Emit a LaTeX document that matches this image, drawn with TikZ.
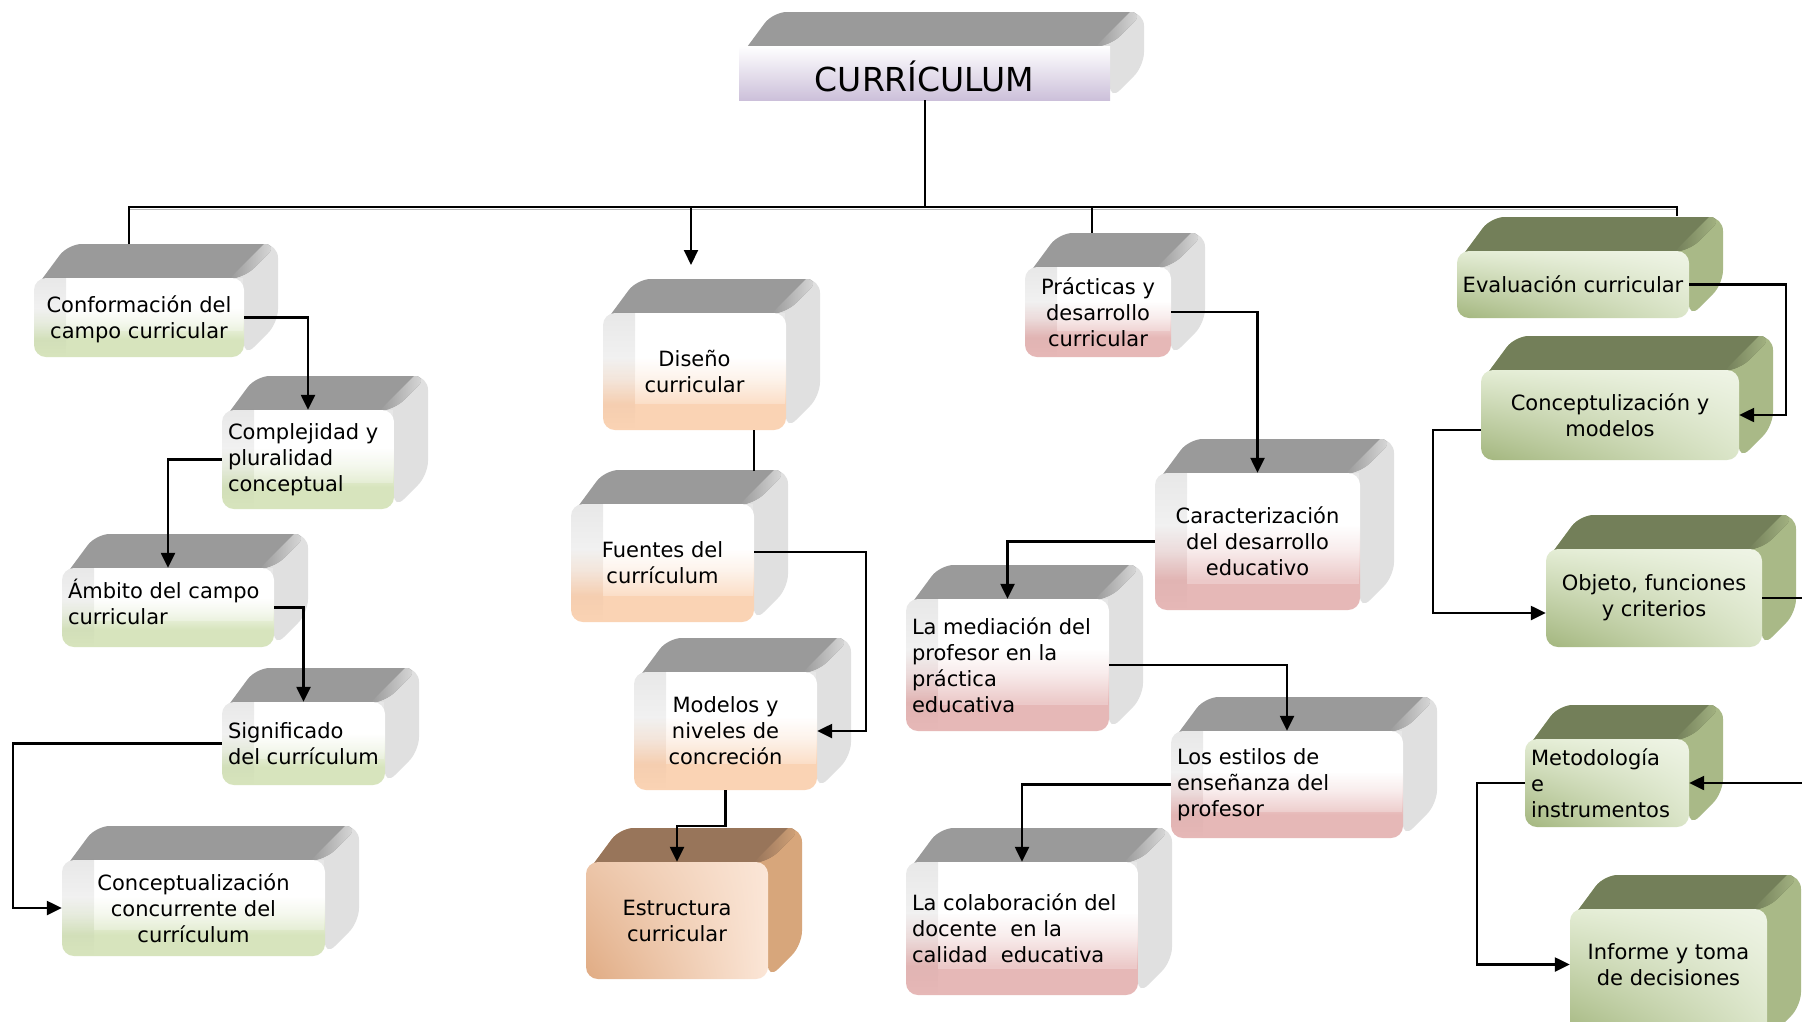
\documentclass[tikz,border=0pt]{standalone}
\usepackage{fontspec}
\setmainfont{DejaVu Sans}
\usetikzlibrary{arrows.meta,shadings,fadings}

\definecolor{topgray}{HTML}{9A9A9A}
\definecolor{sidegray}{HTML}{E0E0E0}
\definecolor{lgreen}{HTML}{D7E4BD}
\definecolor{peach}{HTML}{FAD3B4}
\definecolor{rosy}{HTML}{E6B8B7}
\definecolor{lav}{HTML}{CCC0DA}
\definecolor{oltop}{HTML}{737F59}
\definecolor{olside}{HTML}{A9B987}
\definecolor{olfront}{HTML}{E4EDD5}
\definecolor{oldark}{HTML}{A3B67E}
\definecolor{brtop}{HTML}{98755A}
\definecolor{brside}{HTML}{D7A67B}
\definecolor{brfront}{HTML}{FBE6D7}
\definecolor{brdark}{HTML}{E0AB83}

\pgfdeclareverticalshading{frontgreen}{100bp}{color(0bp)=(lgreen); color(36bp)=(lgreen); color(47bp)=(lgreen!35!white); color(56bp)=(white); color(100bp)=(white)}
\pgfdeclareverticalshading{frontpeach}{100bp}{color(0bp)=(peach); color(36bp)=(peach); color(47bp)=(peach!35!white); color(56bp)=(white); color(100bp)=(white)}
\pgfdeclareverticalshading{frontrosy}{100bp}{color(0bp)=(rosy); color(36bp)=(rosy); color(47bp)=(rosy!35!white); color(56bp)=(white); color(100bp)=(white)}

% #1 name, #2 L, #3 T, #4 R, #5 B, #6 top colour, #7 side colour, #8 front style
\newcommand\cubeshape[8]{%
  \fill[#7, rounded corners=14pt] (#2,#3+12) -- (#2+34,#3-34) -- (#4+34,#3-34) -- (#4+34,#5-34) -- (#4,#5) -- (#4,#3) -- cycle;
  \begin{scope}
    \clip[rounded corners=14pt] (#2,#3+12) -- (#2+34,#3-34) -- (#4+34,#3-34) -- (#4,#3) -- cycle;
    \fill[#6] (#2,#3+12) -- (#2+34,#3-34) -- (#4+34,#3-34) -- (#4,#3) -- cycle;
    \shade[left color=#6, right color=#7] (#4-14,#3) -- (#4+20,#3-34) -- (#4+34,#3-34) -- (#4,#3) -- cycle;
  \end{scope}
  \pgfmathsetmacro\cubcx{(#2+#4)/2}%
  \pgfmathsetmacro\cubcy{(#3+#5)/2}%
  \pgfmathsetmacro\cubw{#4-#2}%
  \pgfmathsetmacro\cubh{#5-#3}%
  \node[#8, minimum width=\cubw pt, minimum height=\cubh pt] (#1) at (\cubcx,\cubcy) {};
}
% light bevel strip on the left of a front face: #1 L, #2 T, #3 B, #4 R
\newcommand\bevel[4]{%
  \fill[black, opacity=0.09, path fading=south] (#1+32,#2) [rounded corners=12pt] -- (#1,#2) -- (#1,#3) [sharp corners] -- (#1+32,#3) -- cycle;
  \fill[white, opacity=0.25] (#1+32,#2) -- (#4-1,#2) -- (#4-1,#3-26) -- (#1+32,#3-26) -- cycle;
}

\tikzset{
  fr/.style={rectangle, inner sep=0pt, rounded corners=12pt, shade},
  fg/.style={fr, shading=frontgreen},
  fp/.style={fr, shading=frontpeach},
  fk/.style={fr, shading=frontrosy},
  fl/.style={rectangle, inner sep=0pt, shade, top color=white, bottom color=lav},
  fo/.style={fr, lower left=oldark, upper left=olfront, upper right=olfront!60!white, lower right=olfront!85!oldark},
  fb/.style={fr, lower left=brdark, upper left=brdark!55!brfront, upper right=brfront, lower right=brfront},
  ct/.style={align=center, font=\fontsize{21}{26}\selectfont, inner sep=0pt},
  lt/.style={ct, align=left, anchor=west},
  conn/.style={line width=2.4pt, -{Triangle[length=15pt,width=14pt]}},
  plain/.style={line width=2.4pt},
  tree/.style={line width=2pt},
}

\begin{document}
\begin{tikzpicture}[x=1pt, y=-1pt]
\useasboundingbox (0,0) rectangle (1802,1021);
\fill[white] (0,0) rectangle (1802,1021);
\clip (0,0) rectangle (1802,1021);

% ---- boxes ----
\cubeshape{cur}{739}{46}{1110}{100}{topgray}{sidegray}{fl}
\node[ct, font=\fontsize{33}{36}\selectfont] (cur-t) at ([yshift=-3pt]cur.center) {CURRÍCULUM};

\cubeshape{conf}{34}{278}{244}{357}{topgray}{sidegray}{fg}
\bevel{34}{278}{357}{244}
\node[ct] (conf-t) at ([yshift=-2pt]conf.center) {Conformación del\\campo curricular};

\cubeshape{comp}{222}{410}{394}{509}{topgray}{sidegray}{fg}
\bevel{222}{410}{509}{394}
\node[lt] (comp-t) at ([xshift=6pt]comp.west) {Complejidad y\\pluralidad\\conceptual};

\cubeshape{amb}{62}{568}{274}{647}{topgray}{sidegray}{fg}
\bevel{62}{568}{647}{274}
\node[lt] (amb-t) at ([xshift=6pt,yshift=6pt]amb.west) {Ámbito del campo\\curricular};

\cubeshape{sig}{222}{702}{385}{785}{topgray}{sidegray}{fg}
\bevel{222}{702}{785}{385}
\node[lt] (sig-t) at ([xshift=6pt]sig.west) {Significado\\del currículum};

\cubeshape{cc}{62}{860}{325}{956}{topgray}{sidegray}{fg}
\bevel{62}{860}{956}{325}
\node[ct] (cc-t) at (cc.center) {Conceptualización\\concurrente del\\currículum};

\cubeshape{dis}{603}{313}{786}{430}{topgray}{sidegray}{fp}
\bevel{603}{313}{430}{786}
\node[ct] (dis-t) at (dis.center) {Diseño\\curricular};

\cubeshape{fue}{571}{504}{754}{622}{topgray}{sidegray}{fp}
\bevel{571}{504}{622}{754}
\node[ct] (fue-t) at (fue.center) {Fuentes del\\currículum};

\cubeshape{mod}{634}{672}{817}{790}{topgray}{sidegray}{fp}
\bevel{634}{672}{790}{817}
\node[ct] (mod-t) at (mod.center) {Modelos y\\niveles de\\concreción};

\cubeshape{est}{586}{862}{768}{979}{brtop}{brside}{fb}
\node[ct] (est-t) at (est.center) {Estructura\\curricular};

\cubeshape{prac}{1025}{267}{1171}{357}{topgray}{sidegray}{fk}
\bevel{1025}{267}{357}{1171}
\node[ct] (prac-t) at (prac.center) {Prácticas y\\desarrollo\\curricular};

\cubeshape{car}{1155}{473}{1360}{610}{topgray}{sidegray}{fk}
\bevel{1155}{473}{610}{1360}
\node[ct] (car-t) at (car.center) {Caracterización\\del desarrollo\\educativo};

\cubeshape{med}{906}{599}{1109}{731}{topgray}{sidegray}{fk}
\bevel{906}{599}{731}{1109}
\node[lt] (med-t) at ([xshift=6pt]med.west) {La mediación del\\profesor en la\\práctica\\educativa};

\cubeshape{sty}{1171}{731}{1403}{838}{topgray}{sidegray}{fk}
\bevel{1171}{731}{838}{1403}
\node[lt] (sty-t) at ([xshift=6pt]sty.west) {Los estilos de\\enseñanza del\\profesor};

\cubeshape{col}{906}{862}{1138}{995}{topgray}{sidegray}{fk}
\bevel{906}{862}{995}{1138}
\node[lt] (col-t) at ([xshift=6pt]col.west) {La colaboración del\\docente \ en la\\calidad \ educativa};

\cubeshape{eval}{1457}{251}{1689}{318}{oltop}{olside}{fo}
\node[ct] (eval-t) at (eval.center) {Evaluación curricular};

\cubeshape{cym}{1481}{370}{1739}{460}{oltop}{olside}{fo}
\node[ct] (cym-t) at (cym.center) {Conceptulización y\\modelos};

\cubeshape{obj}{1546}{549}{1762}{647}{oltop}{olside}{fo}
\node[ct] (obj-t) at (obj.center) {Objeto, funciones\\y criterios};

\cubeshape{met}{1525}{739}{1689}{827}{oltop}{olside}{fo}
\node[lt] (met-t) at ([xshift=6pt]met.west) {Metodología\\e\\instrumentos};

\cubeshape{inf}{1570}{909}{1767}{1040}{oltop}{olside}{fo}
\node[ct] (inf-t) at ([yshift=10pt]inf.center) {Informe y toma\\de decisiones};

% ---- tree ----
\coordinate (bl) at (129,207);
\coordinate (br) at (1677,207);
\coordinate (conf-top) at (129,244);
\coordinate (dis-top) at (691,265);
\coordinate (prac-top) at (1092,233);
\coordinate (eval-top) at (1677,216);
\coordinate (fue-top) at (754,471);
\draw[gray!55, line width=1.5pt] ([yshift=-2.5pt]bl) -- ([yshift=-2.5pt]br);
\draw[tree] (cur.south) -- (cur.south |- bl);
\draw[tree] (conf-top) |- (br) -- (eval-top);
\draw[tree, -{Triangle[length=15pt,width=14pt]}] (dis-top |- bl) -- (dis-top);
\draw[tree] (prac-top |- bl) -- (prac-top);

% ---- connectors ----
\draw[conn] (conf.east) -| (comp.north);
\draw[conn] (comp.west) -| (amb.north);
\draw[conn] (amb.east) -| (sig.north);
\draw[conn] (sig.west) -- ++(-209,0) |- (cc.west);

\draw[plain] (dis.south -| fue-top) -- (fue-top);
\draw[conn] ([yshift=11pt]fue.east) -- ++(112,0) |- (mod.east);
\draw[conn] (mod.south) -- ++(0,36) -| (est.north);

\draw[conn] (prac.east) -| (car.north);
\draw[conn] (car.west) -| (med.north);
\draw[conn] (med.east) -| (sty.north);
\draw[conn] (sty.west) -| (col.north);

\draw[conn] (eval.east) -- ++(97,0) |- (cym.east);
\draw[conn] ([yshift=-15pt]cym.west) -- ++(-48,0) |- ([yshift=-15pt]obj.west);
\draw[conn] (obj.east) -- ++(53,0) |- (met.east);
\draw[conn] (met.west) -- ++(-48,0) |- ([yshift=10pt]inf.west);
\end{tikzpicture}
\end{document}
